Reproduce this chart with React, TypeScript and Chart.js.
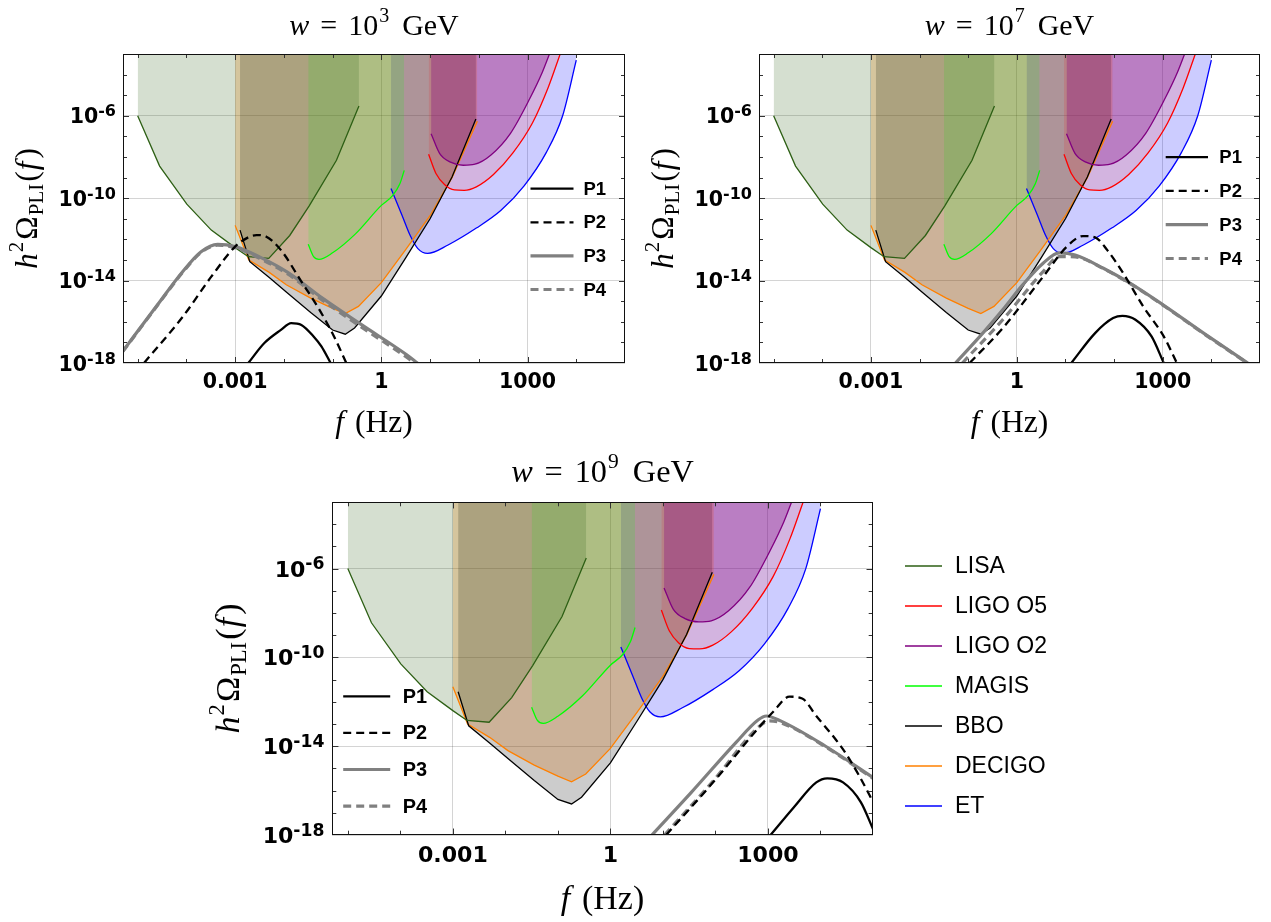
import React, { useEffect, useRef } from "react";
import { Chart, registerables } from "chart.js";
Chart.register(...registerables);

// ---------- axes ----------
const xMin = 5e-6;
const xMax = 1e5;
const yMin = 1e-18;
const yMax = 1e-3;
const xGridValues = [1e-3, 1, 1e3];
const xTickLabels = ["0.001", "1", "1000"];
const yGridValues = [1e-18, 1e-14, 1e-10, 1e-6];
const yTickExponents = ["-18", "-14", "-10", "-6"];
const xMinorTicks = [1e-5, 1e-4, 1e-3, 1e-2, 1e-1, 1, 10, 100, 1e3, 1e4];
const yMinorTicks = [1e-17, 1e-16, 1e-15, 1e-14, 1e-13, 1e-12, 1e-11, 1e-10, 1e-9, 1e-8, 1e-7, 1e-6, 1e-5, 1e-4];
const panelExponents = ["3", "7", "9"];

// ---------- detector sensitivity curves (f in Hz, h^2 Omega) ----------
const lisaF = [1e-5, 2.82e-5, 1.02e-4, 3.24e-4, 1e-3, 1.86e-3, 4.9e-3, 1.32e-2, 3.31e-2, 0.12, 0.347];
const lisaOmega = [1e-6, 3.63e-9, 5.13e-11, 2.82e-12, 4.0e-13, 1.45e-13, 1.2e-13, 1.55e-12, 4.27e-11, 6.92e-9, 3.02e-6];

const ligoO5F = [9.33, 13.2, 20, 31.6, 50.1, 89.1, 200, 501, 1260, 2630, 4680];
const ligoO5Omega = [1.35e-8, 1.58e-9, 4.47e-10, 2.51e-10, 2.4e-10, 3.55e-10, 1.41e-9, 1.58e-8, 4.47e-7, 2.24e-5, 1e-3];

const ligoO2F = [10.5, 15.8, 26.3, 47.9, 83.2, 178, 447, 1120, 2000, 2820];
const ligoO2Omega = [1.35e-7, 1.45e-8, 5.62e-9, 3.98e-9, 4.47e-9, 1.26e-8, 1.41e-7, 7.08e-6, 1.26e-4, 1e-3];

const magisF = [3.16e-2, 4.07e-2, 5.25e-2, 0.1, 0.295, 1, 1.7, 2.4, 2.95];
const magisOmega = [5.75e-13, 1.45e-13, 1.07e-13, 2.24e-13, 1.86e-12, 4.47e-11, 1.32e-10, 5.01e-10, 2.24e-9];

const bboF = [1.26e-3, 2e-3, 5.01e-3, 1.12e-2, 3.55e-2, 0.1, 0.182, 0.282, 1, 3.16, 10, 28.2, 87.1];
const bboOmega = [2.82e-12, 8.32e-14, 1.41e-14, 2.82e-15, 2.82e-16, 3.98e-17, 2.51e-17, 5.01e-17, 1.78e-15, 1.26e-13, 1e-11, 1.07e-9, 6.92e-7];

const decigoF = [1e-3, 1.91e-3, 5.01e-3, 1.12e-2, 3.55e-2, 0.1, 0.182, 0.339, 1, 3.16, 10, 28.2, 93.3];
const decigoOmega = [4.79e-12, 1e-13, 2.51e-14, 6.31e-15, 1.41e-15, 4.47e-16, 2.51e-16, 5.62e-16, 7.94e-15, 3.16e-13, 1.41e-11, 1e-9, 5.5e-7];

const etF = [1.58, 2.63, 3.98, 5.62, 8.91, 23.4, 89.1, 282, 851, 2400, 5250, 1e4];
const etOmega = [2.95e-10, 1.58e-11, 1.41e-12, 3.55e-13, 2.09e-13, 5.37e-13, 3.55e-12, 2.51e-11, 3.98e-10, 1.58e-8, 1e-6, 5.01e-4];

// ---------- benchmark spectra, w = 10^3 GeV ----------
const p1FreqW3 = [1.86e-3, 3.98e-3, 8.71e-3, 1.41e-2, 2.29e-2, 4.07e-2, 5.89e-2, 9.12e-2];
const p1OmegaW3 = [1e-18, 9.33e-18, 4.07e-17, 8.71e-17, 7.08e-17, 1.95e-17, 6.46e-18, 1e-18];
const p2FreqW3 = [1.35e-5, 8.51e-5, 3.24e-4, 1e-3, 1.86e-3, 2.75e-3, 4.37e-3, 8.71e-3, 2.29e-2, 4.9e-2, 0.107, 0.191];
const p2OmegaW3 = [1e-18, 1.82e-16, 1.55e-14, 4.47e-13, 1.26e-12, 1.62e-12, 1.35e-12, 3.02e-13, 8.91e-15, 5.5e-16, 1.95e-17, 1e-18];
const p3FreqW3 = [4.9e-6, 2.51e-5, 8.51e-5, 2.0e-4, 4.37e-4, 1e-3, 3.16e-3, 1.2e-2, 6.17e-2, 0.398, 3.31, 5.5];
const p3OmegaW3 = [3.63e-18, 6.31e-16, 2.82e-14, 2.51e-13, 5.75e-13, 4.47e-13, 1.41e-13, 2.51e-14, 1.41e-15, 7.08e-17, 2.51e-18, 1e-18];
const p4FreqW3 = [4.9e-6, 2.51e-5, 8.51e-5, 2.0e-4, 4.37e-4, 1e-3, 3.16e-3, 1.2e-2, 6.17e-2, 0.398, 3.31, 4.79];
const p4OmegaW3 = [3.47e-18, 6.03e-16, 2.63e-14, 2.34e-13, 5.25e-13, 3.98e-13, 1.2e-13, 2.09e-14, 1.12e-15, 5.37e-17, 1.91e-18, 1e-18];

// ---------- benchmark spectra, w = 10^7 GeV ----------
const p1FreqW7 = [13.2, 40.7, 95.5, 148, 275, 589, 1050];
const p1OmegaW7 = [1e-18, 2.82e-17, 1.51e-16, 1.95e-16, 1.26e-16, 1.95e-17, 1e-18];
const p2FreqW7 = [0.107, 0.513, 3.47, 10.7, 22.9, 40.7, 72.4, 155, 398, 1050, 1950];
const p2OmegaW7 = [1e-18, 4.9e-17, 1.55e-14, 4.47e-13, 1.45e-12, 1.26e-12, 3.02e-13, 2.24e-14, 5.5e-16, 1.95e-17, 1e-18];
const p3FreqW7 = [5.5e-2, 0.2, 0.513, 1.32, 3.47, 7.41, 15.8, 60.3, 204, 1050, 6920, 5.62e4];
const p3OmegaW7 = [1e-18, 2.82e-17, 3.8e-16, 6.17e-15, 6.92e-14, 2.24e-13, 1.74e-13, 3.98e-14, 7.94e-15, 6.31e-16, 2.82e-17, 1e-18];
const p4FreqW7 = [7.59e-2, 0.513, 3.47, 7.41, 15.8, 60.3, 204, 1050, 6920, 5.62e4];
const p4OmegaW7 = [1e-18, 1.26e-16, 2.75e-14, 1.45e-13, 1.41e-13, 3.8e-14, 7.59e-15, 6.03e-16, 2.69e-17, 9.55e-19];

// ---------- benchmark spectra, w = 10^9 GeV ----------
const p1FreqW9 = [1120, 3090, 8320, 1.35e4, 2.69e4, 5.89e4, 1e5];
const p1OmegaW9 = [1e-18, 1.74e-17, 2.34e-16, 3.55e-16, 2.34e-16, 2.95e-17, 1.86e-18];
const p2FreqW9 = [11.5, 95.5, 646, 1260, 2570, 4470, 8320, 1.95e4, 3.24e4, 8.71e4, 1e5];
const p2OmegaW9 = [1e-18, 2.75e-16, 6.31e-14, 3.55e-13, 1.7e-12, 1.41e-12, 2.29e-13, 2.0e-14, 3.72e-15, 5.89e-17, 2.95e-17];
const p3FreqW9 = [6.17, 34.7, 245, 646, 933, 1740, 1.23e4, 1e5];
const p3OmegaW9 = [1e-18, 8.32e-17, 1.45e-14, 1.51e-13, 2.29e-13, 1.38e-13, 1.02e-14, 3.89e-16];
const p4FreqW9 = [10.7, 91.2, 646, 1050, 1740, 1.23e4, 1e5];
const p4OmegaW9 = [1e-18, 2.75e-16, 6.92e-14, 1.38e-13, 1.15e-13, 9.55e-15, 3.55e-16];

// ---------- styles (drawOrder: higher is painted first) ----------
const detectorSeries = [
  { label: "LISA", f: lisaF, o: lisaOmega, color: "rgb(45,95,20)", fillColor: "rgba(45,95,20,0.2)", tension: 0, drawOrder: 3 },
  { label: "LIGO O5", f: ligoO5F, o: ligoO5Omega, color: "#ff0000", fillColor: "rgba(255,0,0,0.12)", tension: 0.4, drawOrder: 2 },
  { label: "LIGO O2", f: ligoO2F, o: ligoO2Omega, color: "#800080", fillColor: "rgba(128,0,128,0.3)", tension: 0.4, drawOrder: 1 },
  { label: "MAGIS", f: magisF, o: magisOmega, color: "#00ff00", fillColor: "rgba(0,255,0,0.15)", tension: 0.4, drawOrder: 4 },
  { label: "BBO", f: bboF, o: bboOmega, color: "#000000", fillColor: "rgba(0,0,0,0.2)", tension: 0, drawOrder: 5 },
  { label: "DECIGO", f: decigoF, o: decigoOmega, color: "#ff8000", fillColor: "rgba(255,128,0,0.25)", tension: 0, drawOrder: 6 },
  { label: "ET", f: etF, o: etOmega, color: "#0000ff", fillColor: "rgba(0,0,255,0.2)", tension: 0.4, drawOrder: 7 },
];

const pStyles = [
  { label: "P1", color: "#000000", width: 2.3, dash: [] as number[] },
  { label: "P2", color: "#000000", width: 2.3, dash: [8, 5] },
  { label: "P3", color: "rgb(128,128,128)", width: 3.2, dash: [] as number[] },
  { label: "P4", color: "rgb(128,128,128)", width: 3.2, dash: [8, 5] },
];

const pSeriesByPanel = [
  [[p1FreqW3, p1OmegaW3], [p2FreqW3, p2OmegaW3], [p3FreqW3, p3OmegaW3], [p4FreqW3, p4OmegaW3]],
  [[p1FreqW7, p1OmegaW7], [p2FreqW7, p2OmegaW7], [p3FreqW7, p3OmegaW7], [p4FreqW7, p4OmegaW7]],
  [[p1FreqW9, p1OmegaW9], [p2FreqW9, p2OmegaW9], [p3FreqW9, p3OmegaW9], [p4FreqW9, p4OmegaW9]],
];

const panelLayouts = [
  { left: 0, top: 0, w: 640, h: 450, pad: { left: 123, right: 15, top: 54, bottom: 87 }, s: 1,
    legend: { x0: 530.5, x1: 573.5, xt: 583.5, y0: 188.7, dy: 33.6 }, outer: null },
  { left: 640, top: 0, w: 631, h: 450, pad: { left: 119, right: 11, top: 54, bottom: 87 }, s: 1,
    legend: { x0: 525.7, x1: 568, xt: 579.3, y0: 157.1, dy: 33.8 }, outer: null },
  { left: 200, top: 450, w: 1071, h: 472, pad: { left: 132, right: 398, top: 52, bottom: 87 }, s: 1.077,
    legend: { x0: 143.2, x1: 190.2, xt: 202.7, y0: 246.3, dy: 36.6 },
    outer: { x0: 705, x1: 742, xt: 755, y0: 116, dy: 40 } },
];

const SERIF = '"Liberation Serif", "Times New Roman", serif';

type Part = { t: string; font: string; dy?: number; gap?: number; w?: number };

function drawRich(ctx: CanvasRenderingContext2D, parts: Part[], cx: number, y: number) {
  let total = 0;
  parts.forEach((p) => {
    ctx.font = p.font;
    p.w = ctx.measureText(p.t).width;
    total += p.w + (p.gap || 0);
  });
  let x = cx - total / 2;
  ctx.textAlign = "left";
  ctx.textBaseline = "alphabetic";
  parts.forEach((p) => {
    x += p.gap || 0;
    ctx.font = p.font;
    ctx.fillText(p.t, x, y + (p.dy || 0));
    x += p.w || 0;
  });
}

const decoPlugin = {
  id: "deco",
  afterDraw(chart: any, _args: any, o: any) {
    const ctx: CanvasRenderingContext2D = chart.ctx;
    const { left, right, top, bottom } = chart.chartArea;
    const xs = chart.scales.x;
    const ys = chart.scales.y;
    const s: number = o.s;
    ctx.save();

    // inside tick marks on all four sides
    ctx.strokeStyle = "#333";
    ctx.lineWidth = 1;
    ctx.beginPath();
    xMinorTicks.forEach((v) => {
      const px = Math.round(xs.getPixelForValue(v)) + 0.5;
      if (px <= left + 1 || px >= right - 1) return;
      const len = (xGridValues.includes(v) ? 6 : 4) * s;
      ctx.moveTo(px, bottom);
      ctx.lineTo(px, bottom - len);
      ctx.moveTo(px, top);
      ctx.lineTo(px, top + len);
    });
    yMinorTicks.forEach((v) => {
      const py = Math.round(ys.getPixelForValue(v)) + 0.5;
      if (py <= top + 1 || py >= bottom - 1) return;
      const len = (yGridValues.includes(v) ? 6 : 4) * s;
      ctx.moveTo(left, py);
      ctx.lineTo(left + len, py);
      ctx.moveTo(right, py);
      ctx.lineTo(right - len, py);
    });
    ctx.stroke();

    // frame
    ctx.strokeStyle = "#111";
    ctx.strokeRect(left + 0.5, top + 0.5, right - left - 1, bottom - top - 1);

    // x tick labels
    ctx.fillStyle = "#000";
    ctx.font = `bold ${20.5 * s}px "DejaVu Sans"`;
    ctx.textAlign = "center";
    ctx.textBaseline = "alphabetic";
    xGridValues.forEach((v, i) => {
      ctx.fillText(xTickLabels[i], xs.getPixelForValue(v), bottom + 25 * s);
    });

    // y tick labels 10^n
    yGridValues.forEach((v, i) => {
      const py = ys.getPixelForValue(v);
      const fb = `bold ${20.5 * s}px "DejaVu Sans"`;
      const fs = `bold ${16 * s}px "DejaVu Sans"`;
      ctx.font = fs;
      const w2 = ctx.measureText(yTickExponents[i]).width;
      ctx.font = fb;
      const w1 = ctx.measureText("10").width;
      const xr = left - 7 * s;
      ctx.textAlign = "left";
      ctx.fillText("10", xr - w2 - w1, py + 7.5 * s);
      ctx.font = fs;
      ctx.fillText(yTickExponents[i], xr - w2, py + 0.5 * s);
    });

    // title
    const tBig = `${30 * s}px ${SERIF}`;
    const tBigI = `italic ${30 * s}px ${SERIF}`;
    const tSmall = `${20 * s}px ${SERIF}`;
    drawRich(
      ctx,
      [
        { t: "w", font: tBigI },
        { t: "=", font: tBig, gap: 11 * s },
        { t: "10", font: tBig, gap: 11 * s },
        { t: o.exp, font: tSmall, dy: -13 * s, gap: 1 * s },
        { t: "GeV", font: tBig, gap: 13 * s },
      ],
      (left + right) / 2,
      top - 19 * s
    );

    const big = `${31.5 * s}px ${SERIF}`;
    const bigI = `italic ${31.5 * s}px ${SERIF}`;
    const small = `${21 * s}px ${SERIF}`;
    // x axis label
    drawRich(
      ctx,
      [
        { t: "f", font: bigI },
        { t: "(Hz)", font: big, gap: 11 * s },
      ],
      (left + right) / 2,
      bottom + 68.5 * s
    );

    // y axis label
    ctx.save();
    ctx.translate(left - 86 * s, (top + bottom) / 2);
    ctx.rotate(-Math.PI / 2);
    drawRich(
      ctx,
      [
        { t: "h", font: bigI },
        { t: "2", font: small, dy: -14 * s, gap: 1 * s },
        { t: "Ω", font: big, gap: 2 * s },
        { t: "PLI", font: small, dy: 6 * s, gap: 1 * s },
        { t: "(", font: big, gap: 2 * s },
        { t: "f", font: bigI, gap: 1 * s },
        { t: ")", font: big, gap: 3 * s },
      ],
      0,
      0
    );
    ctx.restore();

    // inner legend (P1..P4)
    const lg = o.legend;
    pStyles.forEach((p, i) => {
      const y = lg.y0 + i * lg.dy;
      ctx.beginPath();
      ctx.strokeStyle = p.color;
      ctx.lineWidth = p.width;
      ctx.setLineDash(p.dash);
      ctx.moveTo(lg.x0, y);
      ctx.lineTo(lg.x1, y);
      ctx.stroke();
      ctx.setLineDash([]);
      ctx.fillStyle = "#000";
      ctx.font = `bold ${18.5 * s}px "Liberation Sans"`;
      ctx.textAlign = "left";
      ctx.textBaseline = "middle";
      ctx.fillText(p.label, lg.xt, y + 1);
    });

    // outer legend (detectors)
    if (o.outer) {
      const ol = o.outer;
      detectorSeries.forEach((d, i) => {
        const y = ol.y0 + i * ol.dy;
        ctx.beginPath();
        ctx.strokeStyle = d.color;
        ctx.lineWidth = 1.5;
        ctx.moveTo(ol.x0, y);
        ctx.lineTo(ol.x1, y);
        ctx.stroke();
        ctx.fillStyle = "#000";
        ctx.font = `23px "Liberation Sans"`;
        ctx.textAlign = "left";
        ctx.textBaseline = "middle";
        ctx.fillText(d.label, ol.xt, y + 1);
      });
    }
    ctx.restore();
  },
};

function pts(f: number[], o: number[]) {
  return f.map((x, i) => ({ x, y: o[i] }));
}

function Panel({ idx }: { idx: number }) {
  const ref = useRef<HTMLCanvasElement>(null);
  const lay = panelLayouts[idx];
  useEffect(() => {
    const datasets: any[] = [];
    pSeriesByPanel[idx].forEach(([f, o], i) => {
      const st = pStyles[i];
      datasets.push({
        label: st.label,
        data: pts(f, o),
        borderColor: st.color,
        borderWidth: st.width,
        borderDash: st.dash,
        pointRadius: 0,
        fill: false,
        cubicInterpolationMode: "monotone",
        order: 0,
        clip: 0,
      });
    });
    detectorSeries.forEach((d) => {
      datasets.push({
        label: d.label,
        data: pts(d.f, d.o),
        borderColor: d.color,
        borderWidth: 1.3,
        backgroundColor: d.fillColor,
        pointRadius: 0,
        fill: "end",
        tension: d.tension,
        cubicInterpolationMode: d.tension > 0 ? "monotone" : "default",
        order: d.drawOrder,
        clip: 0,
      });
    });
    const chart = new Chart(ref.current as HTMLCanvasElement, {
      type: "line",
      data: { datasets },
      plugins: [decoPlugin as any],
      options: {
        animation: false,
        responsive: false,
        devicePixelRatio: 1,
        events: [],
        layout: { padding: lay.pad },
        plugins: {
          legend: { display: false },
          title: { display: false },
          tooltip: { enabled: false },
          filler: { drawTime: "beforeDatasetsDraw" },
          deco: { s: lay.s, exp: panelExponents[idx], legend: lay.legend, outer: lay.outer },
        } as any,
        scales: {
          x: {
            type: "logarithmic",
            min: xMin,
            max: xMax,
            ticks: { display: false },
            grid: { color: "rgba(0,0,0,0.17)", drawTicks: false, lineWidth: 1 },
            border: { display: false },
            afterBuildTicks: (axis: any) => {
              axis.ticks = xGridValues.map((v) => ({ value: v }));
            },
            afterFit: (axis: any) => {
              axis.height = 0;
            },
          },
          y: {
            type: "logarithmic",
            min: yMin,
            max: yMax,
            ticks: { display: false },
            grid: { color: "rgba(0,0,0,0.17)", drawTicks: false, lineWidth: 1 },
            border: { display: false },
            afterBuildTicks: (axis: any) => {
              axis.ticks = yGridValues.map((v) => ({ value: v }));
            },
            afterFit: (axis: any) => {
              axis.width = 0;
            },
          },
        },
      } as any,
    });
    return () => chart.destroy();
  }, [idx]);
  return (
    <canvas
      ref={ref}
      width={lay.w}
      height={lay.h}
      style={{ position: "absolute", left: lay.left, top: lay.top, width: lay.w, height: lay.h }}
    />
  );
}

export default function App() {
  return (
    <div style={{ position: "fixed", left: 0, top: 0, width: 1271, height: 922, background: "#fff", overflow: "hidden" }}>
      <Panel idx={0} />
      <Panel idx={1} />
      <Panel idx={2} />
    </div>
  );
}
